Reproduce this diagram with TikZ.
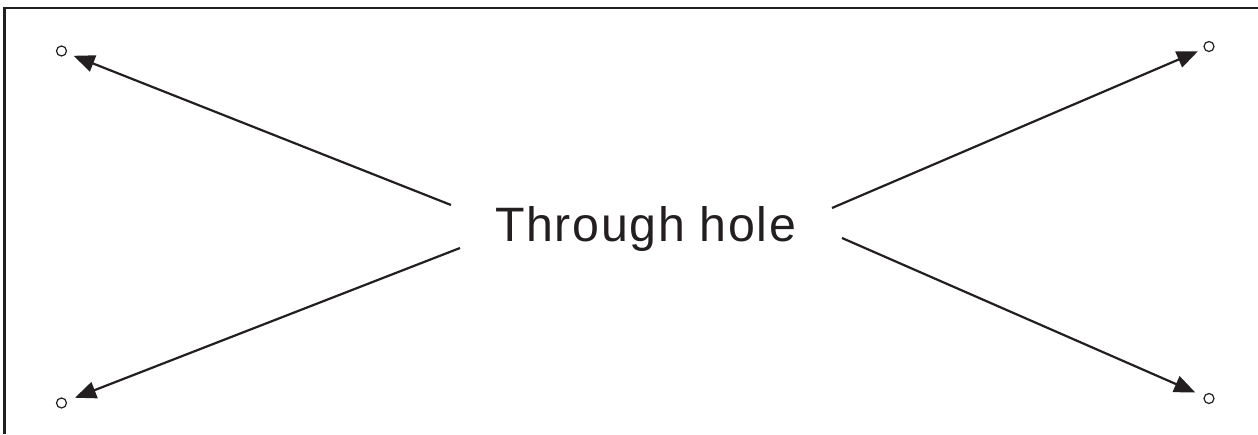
\documentclass[tikz,border=0pt]{standalone}
\usepackage{fontspec}
\usetikzlibrary{arrows.meta}
\newfontfamily\labfont[LetterSpace=3.4]{Liberation Sans}
\definecolor{ink}{HTML}{231F20}
\tikzset{
  hole/.style={circle,draw=ink,line width=1.2pt,minimum size=10pt,inner sep=0pt,outer sep=0pt,fill=white},
  pointer/.style={draw=ink,line width=2.2pt,-{Triangle[length=21pt,width=17pt,fill=ink]}},
  frameline/.style={draw=ink,line width=2.4pt,line cap=butt}
}
\begin{document}
\begin{tikzpicture}[x=1pt,y=-1pt]
\useasboundingbox (0,0) rectangle (1258,434);
\fill[white] (0,0) rectangle (1258,434);
\coordinate (fa) at (4.5,434);
\coordinate (fb) at (4.5,8);
\coordinate (fc) at (1258,8);
\draw[frameline] (fa) -- (fb) -- (fc);
\node[hole] (tl) at (61.5,51) {};
\node[hole] (tr) at (1209,46.5) {};
\node[hole] (br) at (1209,398.5) {};
\node[hole] (bl) at (61.5,403) {};
\node[anchor=base west,inner sep=0pt,text=ink,font=\fontsize{48.3pt}{50pt}\labfont] (lab) at (495,241.5) {Through hole};
\coordinate (stl) at (451,205);
\coordinate (str) at (832,208);
\coordinate (sbr) at (842,238);
\coordinate (sbl) at (460,248);
\draw[pointer,shorten >=8pt] (stl) -- (tl);
\draw[pointer,shorten >=7pt] (str) -- (tr);
\draw[pointer,shorten >=10pt] (sbr) -- (br);
\draw[pointer,shorten >=9.5pt] (sbl) -- (bl);
\end{tikzpicture}
\end{document}
